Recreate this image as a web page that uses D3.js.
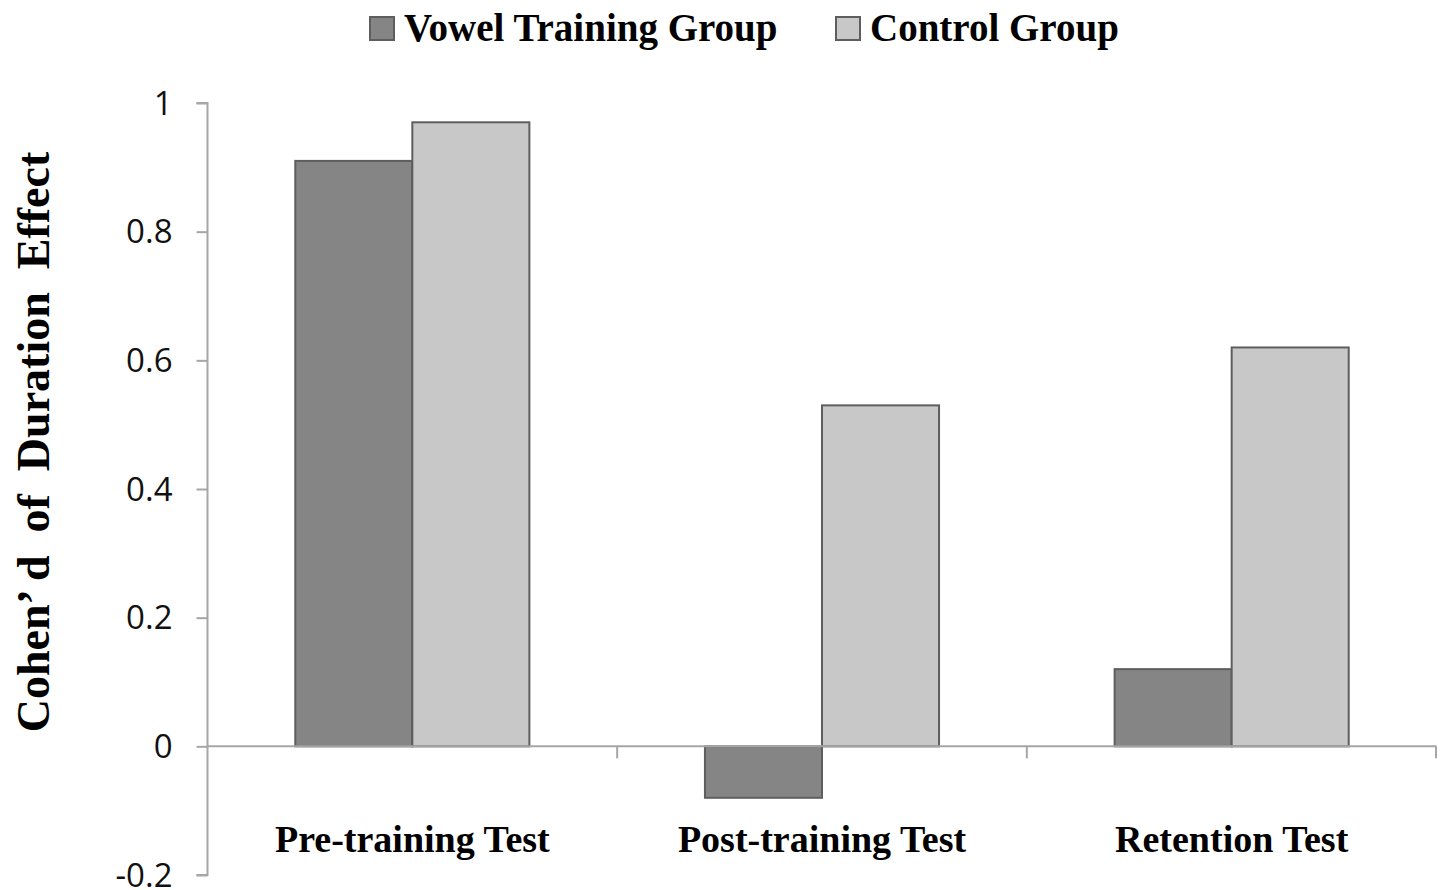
<!DOCTYPE html>
<html><head><meta charset="utf-8">
<script src="https://cdn.jsdelivr.net/npm/d3@7"></script>
<style>body{margin:0;background:#fff}</style>
</head><body>
<svg id="c" width="1442" height="890"></svg>
<script>
const categories = ["Pre-training Test", "Post-training Test", "Retention Test"];
const seriesNames = ["Vowel Training Group", "Control Group"];
const vowelValues = [0.91, -0.08, 0.12];
const controlValues = [0.97, 0.53, 0.62];
const yTicks = [-0.2, 0, 0.2, 0.4, 0.6, 0.8, 1];
const yTitle = "Cohen\u2019 d  of  Duration  Effect";

(function () {
const colors = ["#858585", "#c8c8c8"];
const svg = d3.select("#c");
const pLeft = 207.5, pRight = 1436.5, pTop = 103, pBottom = 875;

const y = d3.scaleLinear().domain([-0.2, 1]).range([pBottom, pTop]);
const x0 = d3.scaleBand().domain(categories).range([pLeft, pRight]).paddingInner(0).paddingOuter(0);
const x1 = d3.scaleBand().domain(seriesNames).range([0, x0.bandwidth()]).paddingInner(0).paddingOuter(0.75);

const data = categories.map((c, i) => ({cat: c, vals: [vowelValues[i], controlValues[i]]}));

// bars
const g = svg.append("g");
data.forEach(d => {
  d.vals.forEach((v, j) => {
    const xx = x0(d.cat) + x1(seriesNames[j]);
    g.append("rect")
      .attr("x", xx).attr("width", x1.bandwidth())
      .attr("y", Math.min(y(v), y(0))).attr("height", Math.abs(y(v) - y(0)))
      .attr("fill", colors[j]).attr("stroke", "#5e5e5e").attr("stroke-width", 2);
  });
});

// y axis
const yAxis = d3.axisLeft(y).tickValues(yTicks).tickSize(11).tickPadding(24)
  .tickFormat(d => String(+d.toFixed(1)));
const ya = svg.append("g").attr("transform", `translate(${pLeft},0)`).call(yAxis);
ya.selectAll("path,line").attr("stroke", "#a6a6a6").attr("stroke-width", 2);
ya.select(".domain").attr("d", `M-11,${pTop}H0V${pBottom}H-11`);
ya.selectAll("text").attr("font-family", "'Open Sans', sans-serif").attr("font-size", 33).attr("fill", "#111").attr("dy", "0.34em");

// x axis at zero
const xa = svg.append("g").attr("transform", `translate(0,${y(0)})`);
xa.append("line").attr("x1", pLeft).attr("x2", pRight).attr("stroke", "#a6a6a6").attr("stroke-width", 2);
const bounds = categories.slice(1).map(c => x0(c)).concat([pRight - 0.5]);
xa.selectAll("line.t").data(bounds).join("line").attr("class", "t")
  .attr("x1", d => d).attr("x2", d => d).attr("y1", 0).attr("y2", 12)
  .attr("stroke", "#a6a6a6").attr("stroke-width", 2);

// category labels
svg.append("g").selectAll("text").data(categories).join("text")
  .attr("x", d => x0(d) + x0.bandwidth() / 2).attr("y", 852)
  .attr("text-anchor", "middle")
  .attr("font-family", "'Liberation Serif', 'Times New Roman', serif")
  .attr("font-weight", "bold").attr("font-size", 38).attr("fill", "#000")
  .text(d => d);

// y title
svg.append("text")
  .attr("transform", `translate(49,442) rotate(-90)`)
  .attr("text-anchor", "middle")
  .attr("font-family", "'Liberation Serif', 'Times New Roman', serif")
  .attr("font-weight", "bold").attr("font-size", 46).attr("fill", "#000")
  .style("white-space", "pre")
  .text(yTitle);

// legend
const legX = [370, 836];
const lg = svg.append("g");
seriesNames.forEach((s, i) => {
  lg.append("rect").attr("x", legX[i]).attr("y", 17).attr("width", 24).attr("height", 23)
    .attr("fill", colors[i]).attr("stroke", "#5e5e5e").attr("stroke-width", 2);
  lg.append("text").attr("x", legX[i] + 34).attr("y", 41)
    .attr("font-family", "'Liberation Serif', 'Times New Roman', serif")
    .attr("font-weight", "bold").attr("font-size", 39).attr("fill", "#000")
    .text(s);
});
})();
</script>
</body></html>
